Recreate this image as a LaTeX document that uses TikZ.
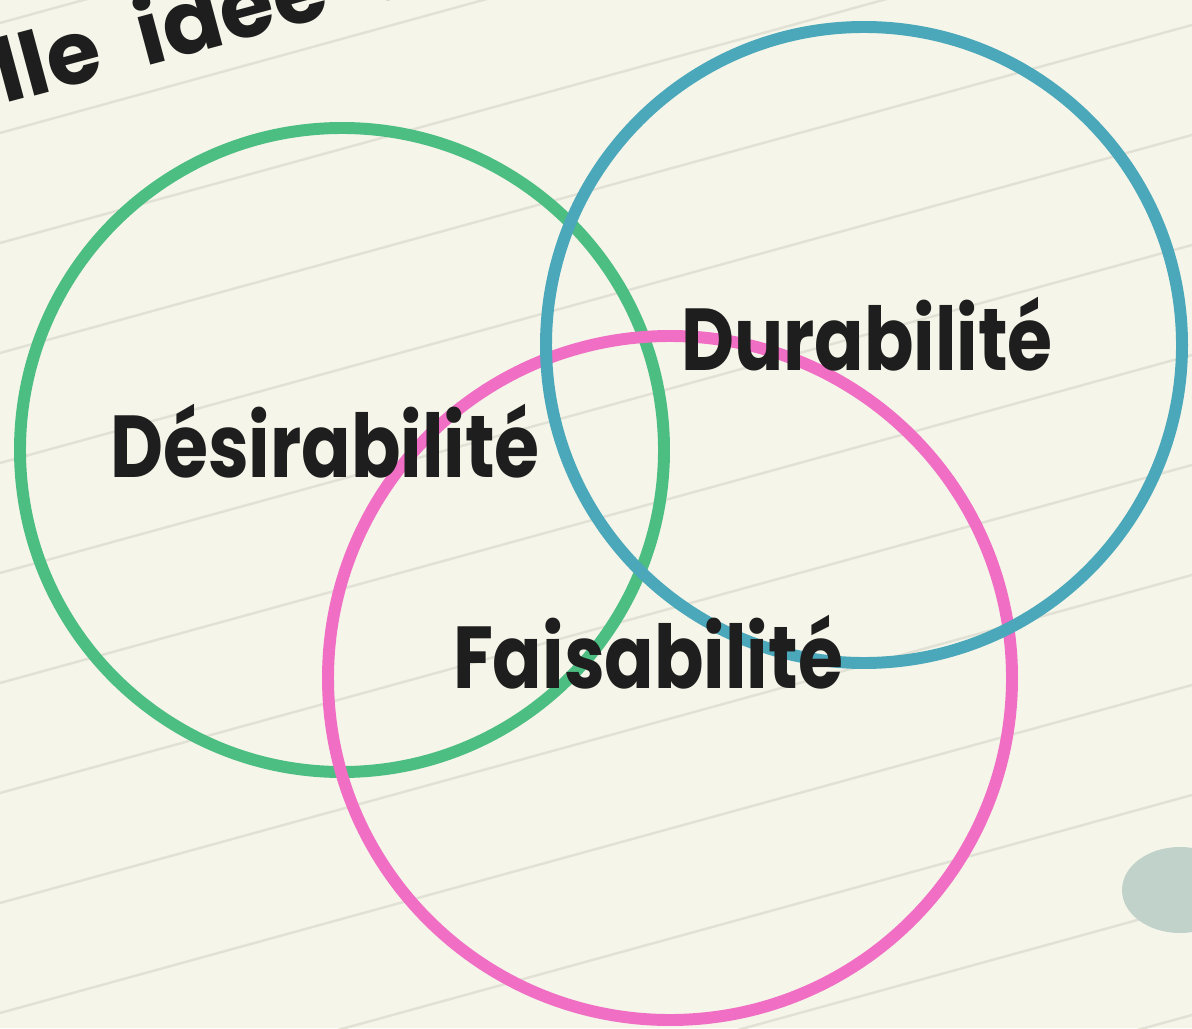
\documentclass[tikz,border=0pt]{standalone}
\usepackage{fontspec}
\setmainfont{Poppins}
\usetikzlibrary{calc}
\definecolor{paper}{RGB}{245,245,233}
\definecolor{rule}{RGB}{226,225,213}
\definecolor{desir}{RGB}{76,190,130}
\definecolor{durab}{RGB}{74,168,186}
\definecolor{faisab}{RGB}{240,110,196}
\definecolor{ink}{RGB}{30,30,30}
\definecolor{stone}{RGB}{192,210,202}
\newcommand{\squeeze}[1]{\scalebox{0.83}[1]{#1}}

\begin{document}
\begin{tikzpicture}[x=0.01cm, y=-0.01cm,
  ring/.style={line width=3.4pt},
  word/.style={text=ink, inner sep=0pt, anchor=base, font=\fontsize{25}{30}\selectfont\bfseries}]
\useasboundingbox (0,0) rectangle (1192,1028);
\fill[paper] (0,0) rectangle (1192,1028);
\clip (0,0) rectangle (1192,1028);
% ruled paper
\foreach \k in {0,...,12} {
 \draw[rule, line width=0.7pt] (0,23+110*\k) --++(1192,-328);
}
\node[word, anchor=base west, rotate=15] (title) at (4,104) {lle\hspace{0.45em}idée\hspace{0.45em}d};
\fill[stone] (1180,890) ellipse (58 and 43);
% the three circles
\coordinate (D) at (342,450);
\coordinate (F) at (670,678);
\coordinate (U) at (864,345);
\draw[desir, ring] (D) circle (322);
\draw[faisab, ring] (F) circle (342);
\draw[durab, ring] (U) circle (318);
\node[word] (desirabilite) at (325,477) {\squeeze{Désirabilité}};
\node[word] (durabilite) at (867,370) {\squeeze{Durabilité}};
\node[word] (faisabilite) at (648,688) {\squeeze{Faisabilité}};
\end{tikzpicture}
\end{document}
